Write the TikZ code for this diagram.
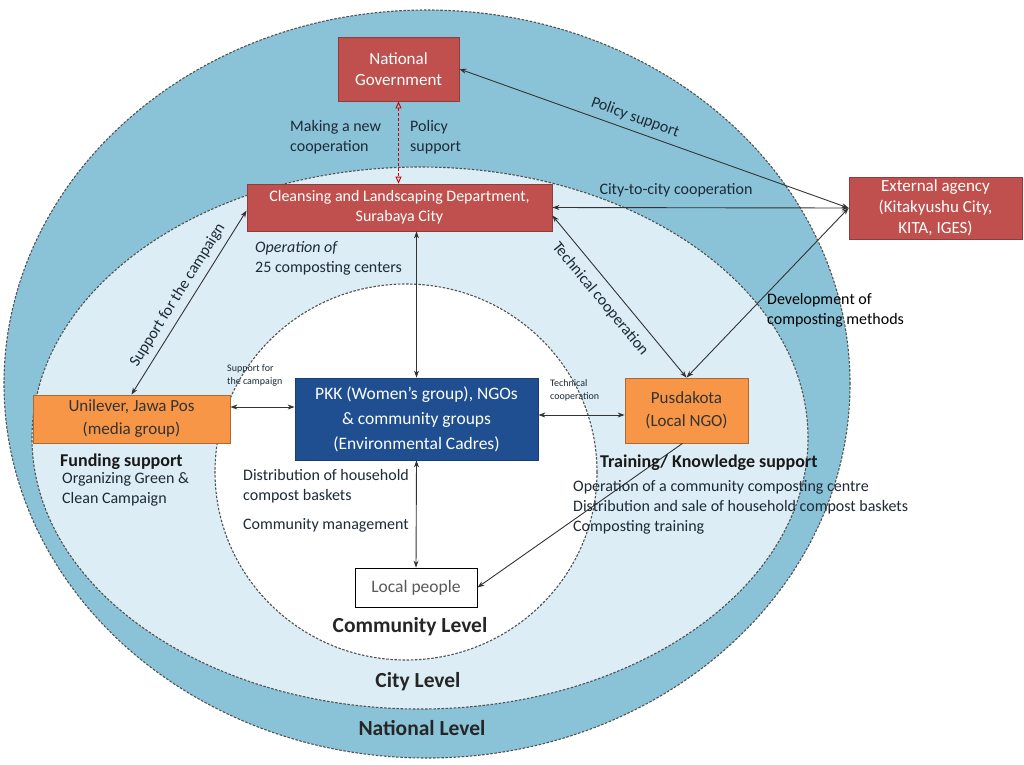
\documentclass[tikz,border=0pt]{standalone}
\usepackage{fontspec}
\setmainfont{Carlito}
\usetikzlibrary{arrows.meta,calc}
\definecolor{natblue}{HTML}{8AC3D8}
\definecolor{cityblue}{HTML}{DCEDF5}
\definecolor{boxred}{HTML}{C0504D}
\definecolor{boxorange}{HTML}{F79646}
\definecolor{boxnavy}{HTML}{1F4E91}
\definecolor{lineg}{HTML}{333333}
\definecolor{txt}{HTML}{1E2A36}
\begin{document}
\begin{tikzpicture}[x=1pt,y=-1pt,
  boxbase/.style={align=center, inner sep=0pt, line width=0.8pt},
  redbox/.style={boxbase, draw=boxred!75!black, fill=boxred, text=white, font=\fontsize{17}{21}\selectfont},
  orangebox/.style={boxbase, draw=boxorange!70!black, fill=boxorange, text=black!80, font=\fontsize{17}{23}\selectfont},
  navybox/.style={boxbase, draw=boxnavy!80!black, fill=boxnavy, text=white, font=\fontsize{17.5}{25}\selectfont},
  whitebox/.style={boxbase, draw=black, fill=white, text=black!65, font=\fontsize{17.5}{21}\selectfont},
  levelring/.style={draw=lineg!85, line width=1.1pt, dash pattern=on 2.5pt off 1.6pt},
  conn/.style={draw=lineg, line width=0.9pt, {Stealth[length=7pt,width=5pt]}-{Stealth[length=7pt,width=5pt]}},
  conn1/.style={draw=lineg, line width=0.9pt, -{Stealth[length=7pt,width=5pt]}},
  redconn/.style={draw=red!80!black, line width=0.9pt, dash pattern=on 3pt off 2pt, {Triangle[open,length=7pt,width=6pt]}-{Triangle[open,length=7pt,width=6pt]}},
  lbl/.style={inner sep=0pt, text=txt, align=left, font=\fontsize{16}{20}\selectfont},
  smalllbl/.style={inner sep=0pt, text=txt, align=left, font=\fontsize{10}{13}\selectfont},
  headlbl/.style={inner sep=0pt, text=black!90, align=left, font=\fontsize{18}{22}\selectfont\bfseries},
  levellbl/.style={inner sep=0pt, text=black!85, font=\fontsize{21.5}{26}\selectfont\bfseries}
]
\useasboundingbox[fill=white] (0,0) rectangle (1024,764);
% level rings
\fill[natblue] (427,384) ellipse [x radius=423pt, y radius=374pt];
\draw[levelring] (427,384) ellipse [x radius=423pt, y radius=374pt];
\fill[cityblue] (420,438) ellipse [x radius=388pt, y radius=271pt];
\draw[levelring] (420,438) ellipse [x radius=388pt, y radius=271pt];
\fill[white] (406,472) ellipse [x radius=191pt, y radius=188pt];
\draw[levelring] (406,472) ellipse [x radius=191pt, y radius=188pt];

% nodes
\node[redbox, minimum width=121pt, minimum height=64pt] (ng) at (398.5,69) {National\\Government};
\node[redbox, minimum width=305pt, minimum height=47pt, font=\fontsize{16}{20}\selectfont] (cl) at (399.5,207.5) {Cleansing and Landscaping Department,\\Surabaya City};
\node[redbox, minimum width=173pt, minimum height=62pt] (ext) at (935.5,208) {External agency\\(Kitakyushu City,\\KITA, IGES)};
\node[orangebox, minimum width=197pt, minimum height=48pt] (uni) at (131.5,419) {Unilever, Jawa Pos\\(media group)};
\node[navybox, minimum width=243pt, minimum height=82pt] (pkk) at (416.5,419) {PKK (Women's group), NGOs\\\& community groups\\(Environmental Cadres)};
\node[orangebox, minimum width=123pt, minimum height=65pt] (pus) at (686.5,410.5) {Pusdakota\\(Local NGO)};
\node[whitebox, minimum width=122pt, minimum height=39pt] (lp) at (416,587.5) {Local people};

% connectors
\draw[redconn] (ng.south) -- (ng.south |- cl.north);
\draw[conn] (ng.east) -- node[pos=0.44, sloped, above=6pt, lbl] {Policy support} (ext.west);
\draw[conn] (cl.east) -- (ext.west);
\draw[conn] (ext.west) -- (pus.north);
\draw[conn] ([yshift=-8pt]cl.east) -- node[pos=0.45, sloped, below=9pt, lbl] {Technical cooperation} (pus.north);
\draw[conn] (uni.north) -- node[pos=0.5, sloped, above=6pt, lbl] {Support for the campaign} ([yshift=-3pt]cl.west);
\draw[conn] (pkk.north |- cl.south) -- (pkk.north);
\draw[conn] ([yshift=12pt]uni.east) -- ([yshift=12pt]uni.east -| pkk.west);
\draw[conn] ([yshift=4pt]pkk.east) -- ([yshift=4pt]pkk.east -| pus.west);
\draw[conn] (pkk.south) -- (lp.north);
\draw[conn1] ([xshift=-4pt]pus.south) -- (lp.east);

% labels
\node[lbl, anchor=west] (mk) at (290,137) {Making a new\\cooperation};
\node[lbl, anchor=west] (ps) at (410,137) {Policy\\support};
\node[lbl, anchor=center] (cc) at (676,190) {City-to-city cooperation};
\node[lbl, anchor=west, text=black] (dev) at (767,310) {Development of\\composting methods};
\node[lbl, anchor=west] (op) at (255,258) {\itshape Operation of\\25 composting centers};
\node[smalllbl, anchor=west] (sc) at (227,375) {Support for\\the campaign};
\node[smalllbl, anchor=west] (tc) at (550,390) {Technical\\cooperation};
\node[lbl, anchor=west] (dist) at (243,486) {Distribution of household\\compost baskets};
\node[lbl, anchor=west] (cm) at (243,525) {Community management};
\node[headlbl, anchor=west] (fs) at (60,462) {Funding support};
\node[lbl, anchor=west] (og) at (62,489) {Organizing Green \&\\Clean Campaign};
\node[headlbl, anchor=west] (tk) at (600,463) {Training/ Knowledge support};
\node[lbl, anchor=west] (tr) at (573,507) {Operation of a community composting centre\\Distribution and sale of household compost baskets\\Composting training};
\node[levellbl] (cml) at (410,627) {Community Level};
\node[levellbl] (cyl) at (418,682) {City Level};
\node[levellbl] (nl) at (422,728) {National Level};
\end{tikzpicture}
\end{document}
